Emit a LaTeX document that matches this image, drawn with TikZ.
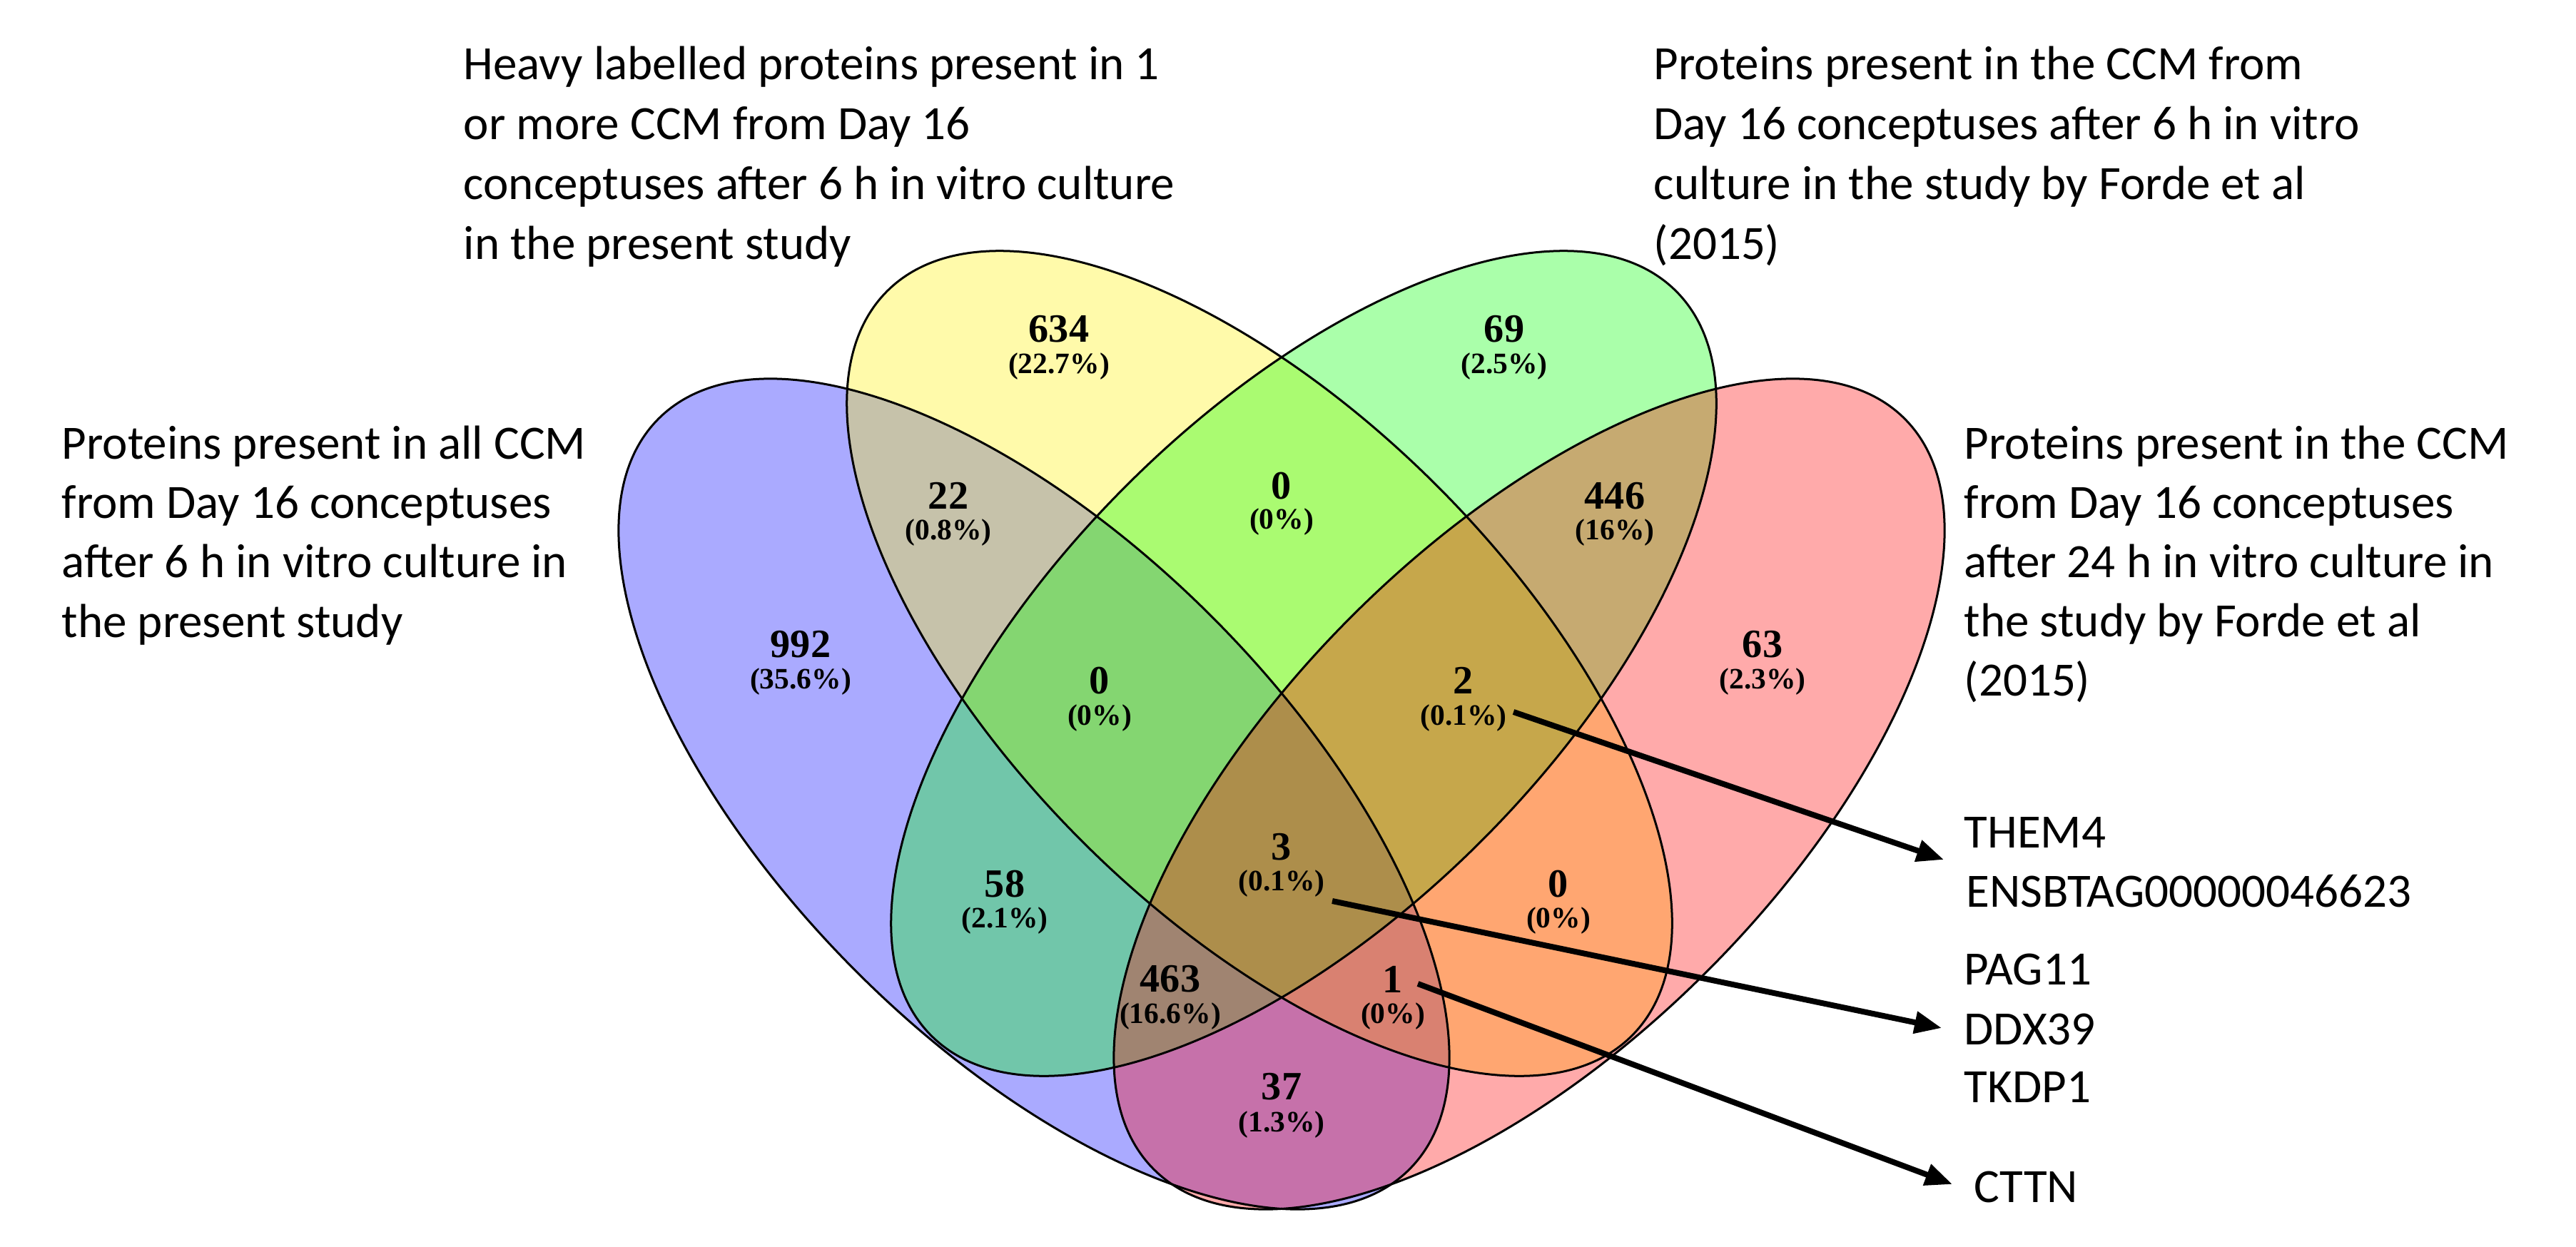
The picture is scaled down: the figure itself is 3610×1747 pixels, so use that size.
\documentclass[tikz,border=0pt]{standalone}
\usepackage{fontspec}
\setmainfont{Carlito}
\newfontfamily\numfont{Liberation Serif}
\usetikzlibrary{arrows.meta}
\tikzset{
  setfill/.style={fill opacity=0.3333},
  outline/.style={draw=black, line width=0.03cm},
  num/.style={font=\numfont\bfseries\fontsize{16pt}{18pt}\selectfont, inner sep=0pt},
  pct/.style={font=\numfont\bfseries\fontsize{11.8pt}{14pt}\selectfont, inner sep=0pt},
  lbl/.style={font=\fontsize{19.06pt}{23.9pt}\selectfont, anchor=base west, inner sep=0pt},
  arr/.style={line width=0.08cm, -{Triangle[length=0.38cm, width=0.30cm]}}
}
\begin{document}
\begin{tikzpicture}[x=0.01cm,y=0.01cm]
\useasboundingbox (0,0) rectangle (3610,1747);
\fill[white] (0,0) rectangle (3610,1747);

% set fills (translucent)
\path[setfill, fill=blue,   rotate around={-45:(1449,634)}] (1449,634) ellipse (744 and 352);
\path[setfill, fill=yellow, rotate around={-45:(1765,817)}] (1765,817) ellipse (738 and 352);
\path[setfill, fill=green,  rotate around={45:(1827,817)}]  (1827,817) ellipse (738 and 352);
\path[setfill, fill=red,    rotate around={45:(2143,634)}]  (2143,634) ellipse (744 and 352);
% outlines
\path[outline, rotate around={-45:(1449,634)}] (1449,634) ellipse (744 and 352);
\path[outline, rotate around={-45:(1765,817)}] (1765,817) ellipse (738 and 352);
\path[outline, rotate around={45:(1827,817)}]  (1827,817) ellipse (738 and 352);
\path[outline, rotate around={45:(2143,634)}]  (2143,634) ellipse (744 and 352);

% region counts
\node[num] (n634) at (1484,1286) {634};  \node[pct] (p634) at (1484,1233) {(22.7\%)};
\node[num] (n69)  at (2108,1286) {69};   \node[pct] (p69)  at (2108,1233) {(2.5\%)};
\node[num] (n22)  at (1329,1052) {22};   \node[pct] (p22)  at (1329,1000) {(0.8\%)};
\node[num] (n446) at (2263,1052) {446};  \node[pct] (p446) at (2263,1000) {(16\%)};
\node[num] (nbc)  at (1796,1066) {0};    \node[pct] (pbc)  at (1796,1015) {(0\%)};
\node[num] (n992) at (1122,844)  {992};  \node[pct] (p992) at (1122,791)  {(35.6\%)};
\node[num] (n63)  at (2470,844)  {63};   \node[pct] (p63)  at (2470,791)  {(2.3\%)};
\node[num] (nabc) at (1541,793)  {0};    \node[pct] (pabc) at (1541,740)  {(0\%)};
\node[num] (n2)   at (2051,793)  {2};    \node[pct] (p2)   at (2051,740)  {(0.1\%)};
\node[num] (n58)  at (1408,508)  {58};   \node[pct] (p58)  at (1408,456)  {(2.1\%)};
\node[num] (nbd)  at (2184,508)  {0};    \node[pct] (pbd)  at (2184,456)  {(0\%)};
\node[num] (n3)   at (1796,560)  {3};    \node[pct] (p3)   at (1796,508)  {(0.1\%)};
\node[num] (n463) at (1640,375)  {463};  \node[pct] (p463) at (1640,322)  {(16.6\%)};
\node[num] (n1)   at (1952,374)  {1};    \node[pct] (p1)   at (1952,322)  {(0\%)};
\node[num] (n37)  at (1796,224)  {37};   \node[pct] (p37)  at (1796,170)  {(1.3\%)};

% set labels
\node[lbl] (la1) at (86,1104) {Proteins present in all CCM};
\node[lbl] (la2) at (86,1021) {from Day 16 conceptuses};
\node[lbl] (la3) at (86,938)  {after 6 h in vitro culture in};
\node[lbl] (la4) at (86,854)  {the present study};

\node[lbl] (lb1) at (649,1635) {Heavy labelled proteins present in 1};
\node[lbl] (lb2) at (649,1551) {or more CCM from Day 16};
\node[lbl] (lb3) at (649,1467) {conceptuses after 6 h in vitro culture};
\node[lbl] (lb4) at (649,1383) {in the present study};

\node[lbl] (lc1) at (2317,1635) {Proteins present in the CCM from};
\node[lbl] (lc2) at (2317,1551) {Day 16 conceptuses after 6 h in vitro};
\node[lbl] (lc3) at (2317,1467) {culture in the study by Forde et al};
\node[lbl] (lc4) at (2317,1383) {(2015)};

\node[lbl] (ld1) at (2752,1104) {Proteins present in the CCM};
\node[lbl] (ld2) at (2752,1021) {from Day 16 conceptuses};
\node[lbl] (ld3) at (2752,938)  {after 24 h in vitro culture in};
\node[lbl] (ld4) at (2752,855)  {the study by Forde et al};
\node[lbl] (ld5) at (2752,772)  {(2015)};

% gene labels
\node[lbl] (g1) at (2752,559) {THEM4};
\node[lbl] (g2) at (2755,476) {ENSBTAG00000046623};
\node[lbl] (g3) at (2752,367) {PAG11};
\node[lbl] (g4) at (2752,283) {DDX39};
\node[lbl] (g5) at (2752,202) {TKDP1};
\node[lbl] (g6) at (2766,62)  {CTTN};

% arrows
\coordinate (s1) at (2121,749);
\coordinate (t1) at (2724,542);
\coordinate (s2) at (1867,484);
\coordinate (t2) at (2721,306);
\coordinate (s3) at (1987,368);
\coordinate (t3) at (2736,87);
\draw[arr] (s1) -- (t1);
\draw[arr] (s2) -- (t2);
\draw[arr] (s3) -- (t3);
\end{tikzpicture}
\end{document}
